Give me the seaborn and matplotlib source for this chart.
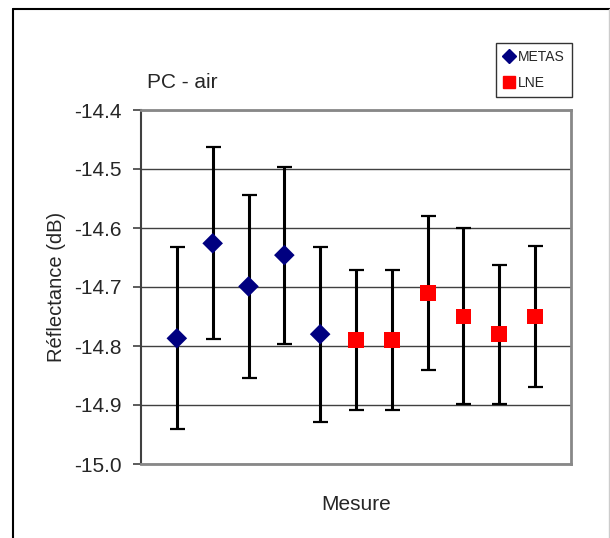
import numpy as np
import pandas as pd
import seaborn as sns
import matplotlib.pyplot as plt
from matplotlib.lines import Line2D

# Données
mesure = [1, 2, 3, 4, 5, 6, 7, 8, 9, 10, 11]
labo = ["METAS"] * 5 + ["LNE"] * 6
reflectance = [-14.787, -14.626, -14.699, -14.646, -14.780,
               -14.790, -14.790, -14.710, -14.750, -14.780, -14.750]
err_haut = [-14.633, -14.463, -14.544, -14.496, -14.632,
            -14.671, -14.671, -14.580, -14.600, -14.662, -14.630]
err_bas = [-14.940, -14.788, -14.854, -14.796, -14.928,
           -14.908, -14.908, -14.840, -14.899, -14.898, -14.869]
y_ticks = [-15.0, -14.9, -14.8, -14.7, -14.6, -14.5, -14.4]

df = pd.DataFrame({"Mesure": mesure, "Labo": labo, "R": reflectance,
                   "haut": err_haut, "bas": err_bas})

sns.set_style("white")
plt.rcParams["font.family"] = ["Liberation Sans", "DejaVu Sans"]

fig = plt.figure(figsize=(6.1, 5.38), dpi=100)
ax = fig.add_axes([141 / 610, 1 - 464 / 538, 430 / 610, 354 / 538])

# barres d'incertitude
ax.errorbar(df["Mesure"], df["R"],
            yerr=[df["R"] - df["bas"], df["haut"] - df["R"]],
            fmt="none", ecolor="black", elinewidth=2.2,
            capsize=5.4, capthick=1.6, zorder=2)

sns.scatterplot(data=df, x="Mesure", y="R", hue="Labo", style="Labo",
                palette={"METAS": "#000080", "LNE": "#ff0000"},
                markers={"METAS": "D", "LNE": "s"},
                size="Labo", sizes={"METAS": 110, "LNE": 128},
                linewidth=0, ax=ax, zorder=3, legend=False)

ax.set_xlim(0, 12)
ax.set_ylim(-15.0, -14.4)
ax.set_yticks(y_ticks)
ax.set_yticklabels([f"{v:.1f}" for v in y_ticks])
ax.set_xticks([])
ax.yaxis.grid(True, color="#404040", linewidth=1)
ax.set_axisbelow(True)
ax.tick_params(axis="y", direction="out", length=6, width=1.2,
               color="#404040", labelsize=15, pad=8, left=True)

for side in ["top", "right", "bottom"]:
    ax.spines[side].set_color("#888888")
    ax.spines[side].set_linewidth(2)
ax.spines["left"].set_color("#404040")
ax.spines["left"].set_linewidth(1.5)

ax.set_xlabel("Mesure", fontsize=15, labelpad=22)
ax.set_ylabel("Réflectance (dB)", fontsize=14.5, labelpad=6)
ax.text(0.014, 1.079, "PC - air", transform=ax.transAxes,
        fontsize=15, va="center", ha="left")

# légende
handles = [
    Line2D([], [], marker="D", color="#000080", linestyle="none", markersize=7),
    Line2D([], [], marker="s", color="#ff0000", linestyle="none", markersize=9),
]
leg = fig.legend(handles, ["METAS", "LNE"], loc="upper left",
                 bbox_to_anchor=(496 / 610, 1 - 43 / 538),
                 bbox_transform=fig.transFigure, fontsize=10,
                 frameon=True, fancybox=False, edgecolor="black",
                 handlelength=0.8, handletextpad=0.3, labelspacing=0.85,
                 borderpad=0.5, borderaxespad=0)
leg.get_frame().set_linewidth(1)

# cadre extérieur
fig.add_artist(Line2D([13 / 610, 13 / 610], [0, 1 - 9 / 538],
                      transform=fig.transFigure, color="black", linewidth=1.5))
fig.add_artist(Line2D([13 / 610, 1], [1 - 9 / 538, 1 - 9 / 538],
                      transform=fig.transFigure, color="black", linewidth=1.5))
fig.add_artist(Line2D([609 / 610, 609 / 610], [0, 1 - 9 / 538],
                      transform=fig.transFigure, color="#cccccc", linewidth=1))

fig.savefig("out.png", dpi=100)
